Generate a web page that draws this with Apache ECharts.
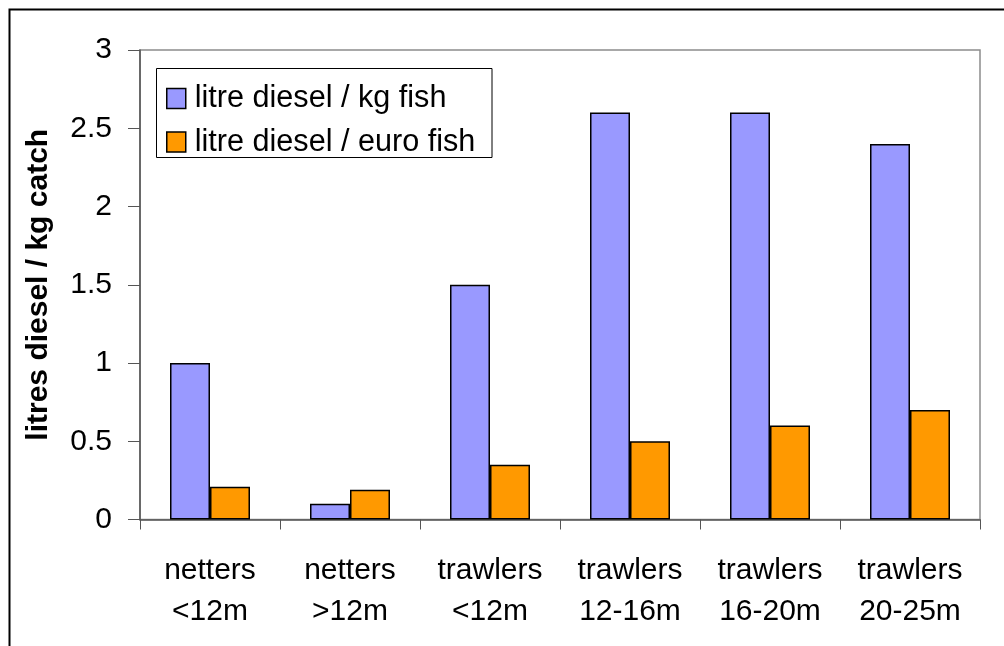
<!DOCTYPE html>
<html>
<head>
<meta charset="utf-8">
<script src="https://cdn.jsdelivr.net/npm/echarts@6/dist/echarts.min.js"></script>
<style>
html,body{margin:0;padding:0;background:#fff;}
#c{width:1004px;height:646px;}
</style>
</head>
<body>
<div id="c"></div>
<script>
var categories = ['netters\n<12m','netters\n>12m','trawlers\n<12m','trawlers\n12-16m','trawlers\n16-20m','trawlers\n20-25m'];
var perKg = [1.0, 0.1, 1.5, 2.6, 2.6, 2.4];
var perEuro = [0.21, 0.19, 0.35, 0.5, 0.6, 0.7];
var seriesNames = ['litre diesel / kg fish','litre diesel / euro fish'];
var yTitle = 'litres diesel / kg catch';

var FONT = "'Liberation Sans', Arial, sans-serif";
var chart = echarts.init(document.getElementById('c'), null, {renderer:'canvas'});
chart.setOption({
  animation:false,
  backgroundColor:'#fff',
  graphic:[
    {type:'rect', left:7, top:7, shape:{x:0,y:0,width:1100,height:1000}, style:{fill:'none', stroke:'#000', lineWidth:2}, z:100},
    {type:'rect', shape:{x:156.5,y:68.5,width:335.5,height:89}, style:{fill:'#fff', stroke:'#000', lineWidth:1}, z:5}
  ],
  grid:{left:140, right:24, top:50, bottom:126.5, show:true, borderColor:'#8c8c8c', borderWidth:1.5, backgroundColor:'transparent'},
  legend:{
    orient:'vertical', left:166, top:83, padding:0,
    itemWidth:19, itemHeight:20, itemGap:12.6,
    textStyle:{fontFamily:FONT, fontSize:30.6, lineHeight:30, color:'#000', padding:[0,0,0,4]},
    itemStyle:{borderColor:'#000', borderWidth:1.5},
    icon:'rect', z:10,
    data:seriesNames
  },
  xAxis:{
    type:'category', data:categories,
    axisLine:{show:true, lineStyle:{color:'#555', width:1.5}},
    axisTick:{show:true, alignWithLabel:false, length:10, lineStyle:{color:'#555', width:1}},
    axisLabel:{fontFamily:FONT, fontSize:30, color:'#000', lineHeight:41, margin:31, interval:0}
  },
  yAxis:{
    type:'value', min:0, max:3, interval:0.5,
    name:yTitle, nameLocation:'middle', nameGap:86,
    nameTextStyle:{fontFamily:FONT, fontSize:30, fontWeight:'bold', color:'#000'},
    axisLine:{show:true, lineStyle:{color:'#555', width:1.5}},
    axisTick:{show:true, inside:false, length:12, lineStyle:{color:'#555', width:1}},
    axisLabel:{fontFamily:FONT, fontSize:30, color:'#000', margin:28},
    splitLine:{show:false}
  },
  series:[
    {name:seriesNames[0], type:'bar', data:perKg, barGap:'0%', barCategoryGap:'42.86%',
     itemStyle:{color:'#9999FF', borderColor:'#000', borderWidth:1.5}},
    {name:seriesNames[1], type:'bar', data:perEuro, barGap:'0%', barCategoryGap:'42.86%',
     itemStyle:{color:'#FF9900', borderColor:'#000', borderWidth:1.5}}
  ]
});
</script>
</body>
</html>
